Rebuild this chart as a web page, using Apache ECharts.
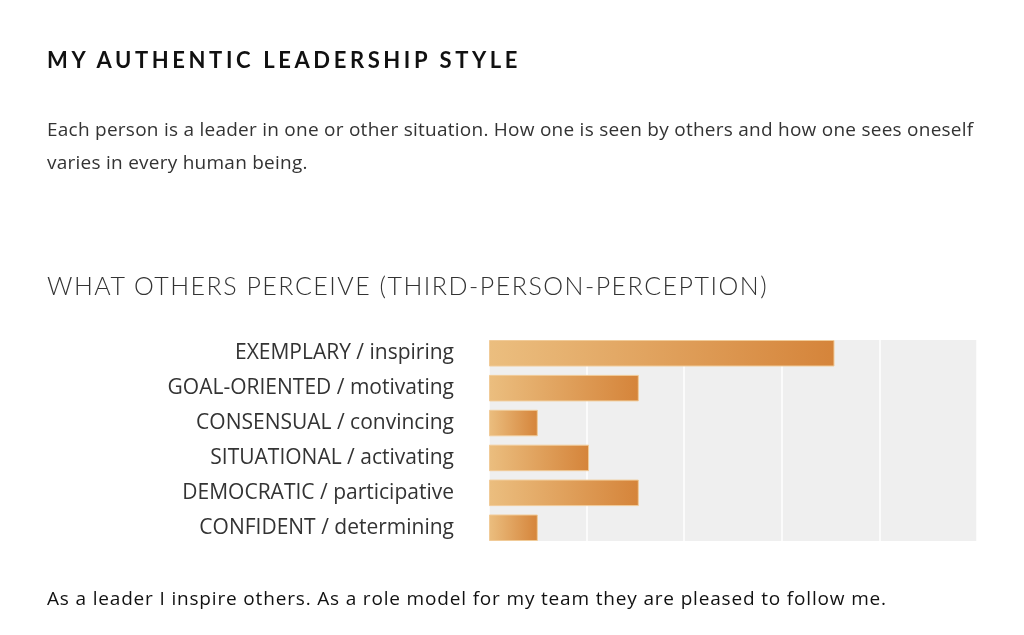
<!DOCTYPE html>
<html>
<head>
<meta charset="utf-8">
<script src="https://cdn.jsdelivr.net/npm/echarts@6/dist/echarts.min.js"></script>
<style>
  html, body { margin: 0; padding: 0; background: #fff; }
  body { width: 1024px; height: 635px; position: relative; overflow: hidden; font-family: 'Open Sans', sans-serif; }
  #chart { position: absolute; left: 0; top: 0; width: 1024px; height: 635px; }
  .txt { position: absolute; left: 47px; margin: 0; white-space: nowrap; }
  h1.txt { top: 46px; font-family: 'Lato', sans-serif; font-size: 22px; font-weight: 700; letter-spacing: 3.6px; color: #111; }
  p.intro { top: 113px; font-size: 19px; line-height: 33px; letter-spacing: 0.25px; color: #333; }
  h2.txt { top: 270px; font-family: 'Lato', sans-serif; font-size: 25px; font-weight: 300; letter-spacing: 1.5px; color: #333; }
  p.outro { top: 585px; font-size: 19px; letter-spacing: 0.83px; color: #111; }
</style>
</head>
<body>
<div id="chart"></div>
<h1 class="txt">MY AUTHENTIC LEADERSHIP STYLE</h1>
<p class="txt intro">Each person is a leader in one or other situation. How one is seen by others and how one sees oneself<br>varies in every human being.</p>
<h2 class="txt">WHAT OTHERS PERCEIVE (THIRD-PERSON-PERCEPTION)</h2>
<p class="txt outro">As a leader I inspire others. As a role model for my team they are pleased to follow me.</p>
<script>
var styles = ['EXEMPLARY / inspiring', 'GOAL-ORIENTED / motivating', 'CONSENSUAL / convincing',
    'SITUATIONAL / activating', 'DEMOCRATIC / participative', 'CONFIDENT / determining'];
var scores = [7.08, 3.07, 1, 2.05, 3.07, 1];
var scaleMax = 10;
var tickStep = 2;

var myChart = echarts.init(document.getElementById('chart'));

option = {
    animation: false,
    grid: [
        // grey panel with the white split lines
        { left: 489, top: 340, width: 488, height: 201, show: true, backgroundColor: '#efefef', borderWidth: 0 },
        // bars: bands reach a little past the panel so first/last bar sit on its edges
        { left: 489, top: 335.8, width: 488, height: 209.4 }
    ],
    xAxis: [{
        gridIndex: 0,
        type: 'value',
        min: 0,
        max: scaleMax,
        interval: tickStep,
        axisLabel: { show: false },
        axisLine: { show: false },
        axisTick: { show: false },
        splitLine: { lineStyle: { color: '#ffffff', width: 1.5 } }
    }, {
        gridIndex: 1,
        type: 'value',
        min: 0,
        max: scaleMax,
        show: false
    }],
    yAxis: [{
        gridIndex: 0,
        type: 'category',
        data: styles,
        show: false
    }, {
        gridIndex: 1,
        type: 'category',
        inverse: true,
        data: styles,
        axisLine: { show: false },
        axisTick: { show: false },
        splitLine: { show: false },
        axisLabel: {
            margin: 35,
            fontSize: 21,
            fontFamily: 'Open Sans',
            color: '#333'
        }
    }],
    series: [{
        type: 'bar',
        xAxisIndex: 1,
        yAxisIndex: 1,
        data: scores,
        barWidth: 26.5,
        itemStyle: {
            color: new echarts.graphic.LinearGradient(0, 0, 1, 0, [
                { offset: 0, color: '#ebbe7f' },
                { offset: 1, color: '#d5843a' }
            ]),
            borderColor: '#f1cb98',
            borderWidth: 1
        }
    }]
};
myChart.setOption(option);
</script>
</body>
</html>
